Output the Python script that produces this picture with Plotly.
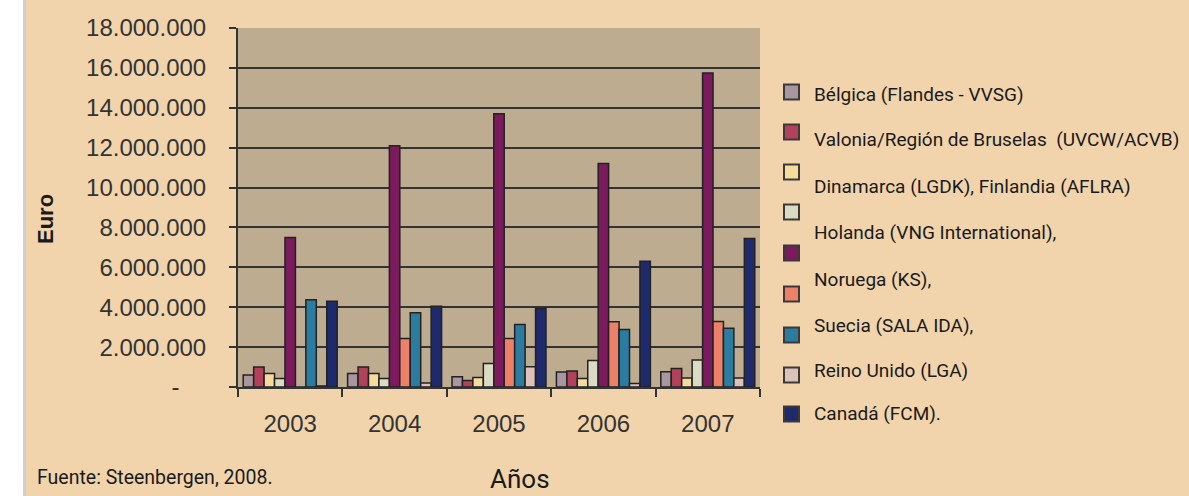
import plotly.graph_objects as go

# ---------------- data ----------------
years = ["2003", "2004", "2005", "2006", "2007"]

belgica = [600000, 680000, 520000, 750000, 770000]
valonia = [1000000, 1000000, 320000, 800000, 930000]
dinamarca = [680000, 680000, 480000, 430000, 450000]
holanda = [430000, 430000, 1180000, 1330000, 1360000]
noruega = [7500000, 12100000, 13700000, 11200000, 15750000]
serie6 = [0, 2430000, 2430000, 3270000, 3280000]
suecia = [4380000, 3720000, 3130000, 2880000, 2950000]
reino_unido = [50000, 200000, 1020000, 170000, 450000]
canada = [4300000, 4050000, 3930000, 6300000, 7450000]

series_names = ["Bélgica", "Valonia/Región de Bruselas", "Dinamarca", "Holanda",
                "Noruega", "Finlandia", "Suecia", "Reino Unido", "Canadá"]
series_values = [belgica, valonia, dinamarca, holanda, noruega, serie6,
                 suecia, reino_unido, canada]
series_colors = ["#A8979F", "#B2425C", "#F5DC9C", "#D9DBC2", "#7B1A5C",
                 "#EC8068", "#2B7CA0", "#DCC2B8", "#1F2A6C"]

y_tickvals = [0, 2000000, 4000000, 6000000, 8000000, 10000000, 12000000,
              14000000, 16000000, 18000000]
y_ticktext = ["-\u00a0\u00a0\u00a0\u00a0", "2.000.000", "4.000.000", "6.000.000",
              "8.000.000", "10.000.000", "12.000.000", "14.000.000",
              "16.000.000", "18.000.000"]

legend_texts = ["Bélgica (Flandes - VVSG)",
                "Valonia/Región de Bruselas  (UVCW/ACVB)",
                "Dinamarca (LGDK), Finlandia (AFLRA)",
                "Holanda (VNG International),",
                "Noruega (KS),",
                "Suecia (SALA IDA),",
                "Reino Unido (LGA)",
                "Canadá (FCM)."]

# ---------------- layout geometry (pixels) ----------------
W_PX, H_PX = 1189, 496
L, R, T, B = 238, 760, 28, 387
PW, PH = R - L, B - T


def px(x):
    return (x - L) / PW


def py(y):
    return (B - y) / PH


PEACH = "#F1D4AC"
PLOTBG = "#BDAC90"
DARK = "#333333"
NARROW = "Roboto, Lato, sans-serif"
ARIAL = "Liberation Sans, Arial, sans-serif"

fig = go.Figure()
for name, vals, col in zip(series_names, series_values, series_colors):
    fig.add_trace(go.Bar(
        x=years, y=vals, name=name, showlegend=False,
        marker=dict(color=col, line=dict(color="#222222", width=1.5)),
    ))

shapes = []
annotations = []

# white page strip on the left
shapes.append(dict(type="rect", xref="paper", yref="paper",
                   x0=px(0), x1=px(23), y0=py(H_PX), y1=py(0),
                   fillcolor="white", line=dict(width=0), layer="below"))
shapes.append(dict(type="line", xref="paper", yref="paper",
                   x0=px(24.5), x1=px(24.5), y0=py(H_PX), y1=py(0),
                   line=dict(color="#CFCFCF", width=3), layer="below"))

# custom legend: markers
marker_centers = [92, 132, 172, 212, 253, 294, 335, 375, 414]
for cy, col in zip(marker_centers, series_colors):
    shapes.append(dict(type="rect", xref="paper", yref="paper",
                       x0=px(784), x1=px(799), y0=py(cy + 7.5), y1=py(cy - 7.5),
                       fillcolor=col, line=dict(color="#3a3a3a", width=2)))

# custom legend: texts
text_centers = [94, 139, 186, 232, 279, 325, 370, 413]
for cy, txt in zip(text_centers, legend_texts):
    annotations.append(dict(text=txt, xref="paper", yref="paper",
                            x=px(812), y=py(cy), xanchor="left", yanchor="middle",
                            showarrow=False,
                            font=dict(family=NARROW, size=19, color="#1a1a1a")))

# axis titles and source
annotations.append(dict(text="<b>Euro</b>", xref="paper", yref="paper",
                        x=px(45), y=py(219), textangle=-90,
                        xanchor="center", yanchor="middle", showarrow=False,
                        font=dict(family=ARIAL, size=22, color="#1a1a1a")))
annotations.append(dict(text="Años", xref="paper", yref="paper",
                        x=px(520), y=py(496), xanchor="center", yanchor="bottom",
                        showarrow=False,
                        font=dict(family=NARROW, size=26, color="#1a1a1a")))
annotations.append(dict(text="Fuente: Steenbergen, 2008.", xref="paper", yref="paper",
                        x=px(35), y=py(477), xanchor="left", yanchor="middle",
                        showarrow=False,
                        font=dict(family=NARROW, size=19.5, color="#1a1a1a")))

fig.update_layout(
    width=W_PX, height=H_PX,
    margin=dict(l=L, r=W_PX - R, t=T, b=H_PX - B, pad=0),
    paper_bgcolor=PEACH, plot_bgcolor=PLOTBG,
    barmode="group", bargap=0.1, bargroupgap=0.0,
    shapes=shapes, annotations=annotations,
    xaxis=dict(type="category", showgrid=False, showline=True, linecolor=DARK,
               linewidth=2, ticks="outside", ticklen=8, tickwidth=2,
               tickcolor=DARK, tickson="boundaries",
               tickfont=dict(family=ARIAL, size=24, color="#333333"),
               ticklabelstandoff=14),
    yaxis=dict(range=[0, 18000000], tickvals=y_tickvals, ticktext=y_ticktext,
               showgrid=True, gridcolor=DARK, gridwidth=2, zeroline=False,
               showline=True, linecolor=DARK, linewidth=2, ticks="outside",
               ticklen=7, tickwidth=2, tickcolor=DARK,
               tickfont=dict(family=ARIAL, size=24, color="#333333"),
               ticklabelstandoff=18),
)

fig.write_html("out.html")
